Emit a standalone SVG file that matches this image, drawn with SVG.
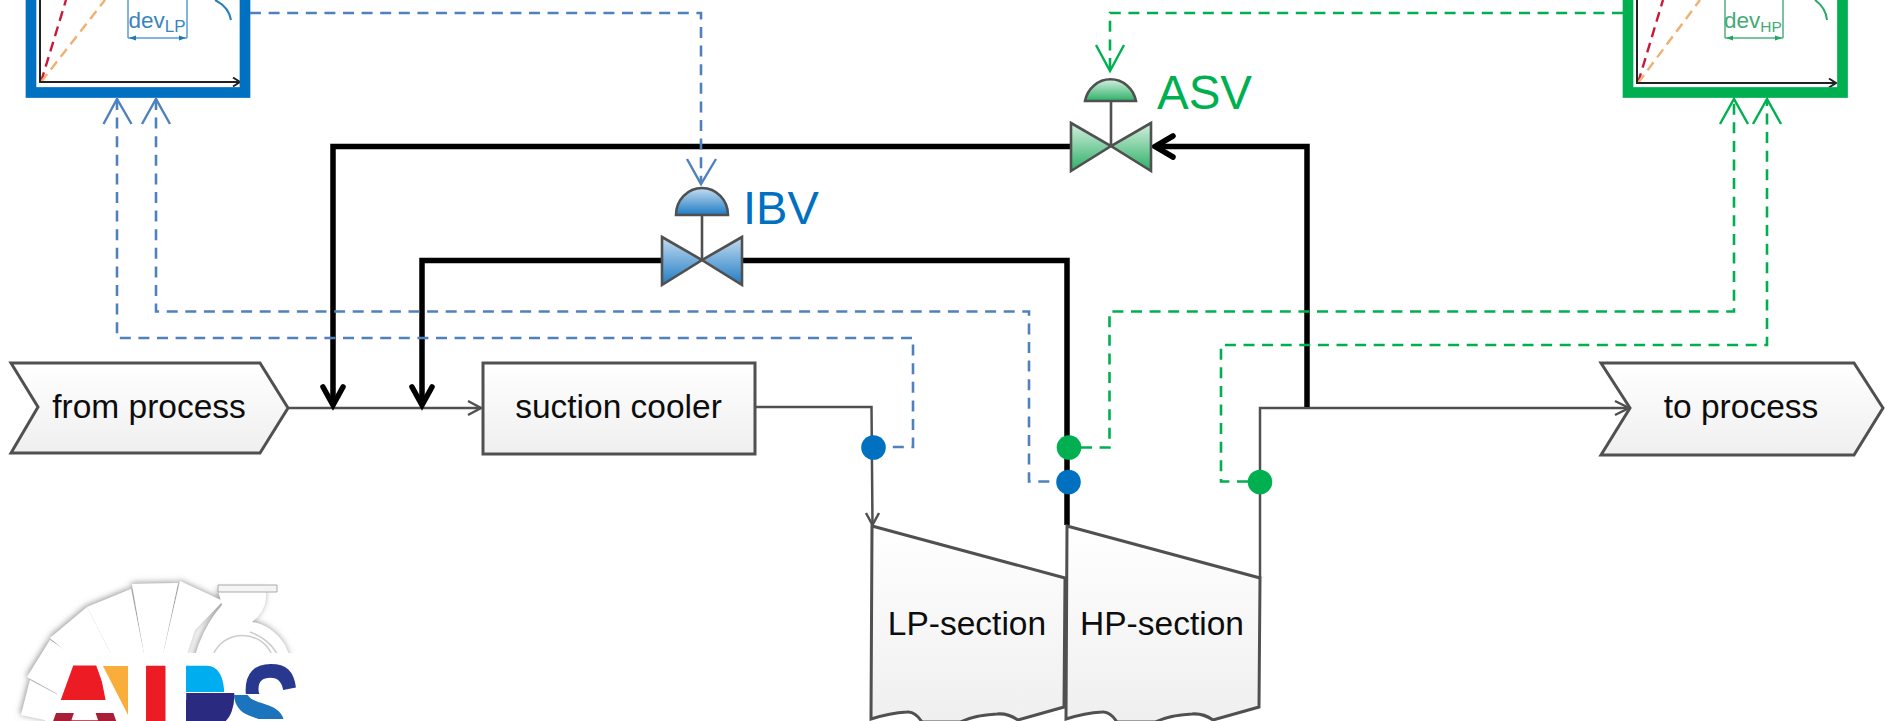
<svg xmlns="http://www.w3.org/2000/svg" width="1885" height="721" viewBox="0 0 1885 721">
<style>
text{font-family:"Liberation Sans",Arial,sans-serif}
.lbl{font-size:33.500px;fill:#0d0d0d;text-anchor:middle}
.shape{stroke:#505050;stroke-width:3;stroke-linejoin:miter;fill:url(#gry)}
.thin{fill:none;stroke:#505050;stroke-width:2.5}
.thick{fill:none;stroke:#000;stroke-width:5.5;stroke-linecap:butt}
.hd{fill:none;stroke:#000;stroke-width:5.5;stroke-linecap:round;stroke-linejoin:miter}
.hdt{fill:none;stroke:#505050;stroke-width:2.5}
.bd{fill:none;stroke:#4f81bd;stroke-width:2.6;stroke-dasharray:11 7.600}
.gd{fill:none;stroke:#00b050;stroke-width:2.6;stroke-dasharray:11 7.600}
.bh{fill:none;stroke:#4f81bd;stroke-width:2.4}
.gh{fill:none;stroke:#00b050;stroke-width:2.4}
.vlv{stroke:#505050;stroke-width:2.6;stroke-linejoin:miter}
.stem{stroke:#505050;stroke-width:2.6}
.ax{fill:none;stroke:#222;stroke-width:2}
.red{fill:none;stroke:#c8193c;stroke-width:2.4;stroke-dasharray:10 6}
.org{fill:none;stroke:#f0b070;stroke-width:2.4;stroke-dasharray:10 6}
.logo{font-weight:bold;font-size:135px}
</style>
<defs>
<linearGradient id="gry" x1="0" y1="0" x2="0" y2="1"><stop offset="0" stop-color="#fff"/><stop offset="1" stop-color="#efefef"/></linearGradient>
<linearGradient id="blu" x1="0" y1="0" x2="0" y2="1"><stop offset="0" stop-color="#c5dcf0"/><stop offset="1" stop-color="#1f7cc4"/></linearGradient>
<linearGradient id="grn" x1="0" y1="0" x2="0" y2="1"><stop offset="0" stop-color="#d5f0e0"/><stop offset="1" stop-color="#2cb066"/></linearGradient>
<filter id="soft" x="-20%" y="-20%" width="140%" height="140%"><feDropShadow dx="-1" dy="-1" stdDeviation="3" flood-color="#777" flood-opacity=".8"/></filter>
<clipPath id="pTop"><rect x="170" y="650" width="70" height="42"/></clipPath>
<clipPath id="pBot"><rect x="170" y="693" width="70" height="28"/></clipPath>
<clipPath id="aTop"><rect x="40" y="650" width="100" height="50"/></clipPath>
<clipPath id="aBot"><rect x="40" y="713" width="100" height="8"/></clipPath>
<clipPath id="sTop"><rect x="236" y="650" width="70" height="44"/></clipPath>
<clipPath id="sBot"><rect x="226" y="695" width="70" height="24"/></clipPath>
</defs>
<rect width="1885" height="721" fill="#fff"/>

<g id="chart-lp">
<path class="red" d="M41 82L66 0"/><path class="org" d="M41 82L105 0"/>
<path class="ax" d="M40 0V82H240M233 77.500L240 82L233 86.500"/>
<path d="M128 0V38M187 0V38M128 38H187" fill="none" stroke="#5b9bd5" stroke-width="1.500"/>
<path d="M129 38l7-2.500v5zM186 38l-7-2.500v5z" fill="#1f77b4"/>
<path d="M215 0Q229 7 231 20" fill="none" stroke="#2a7fb8" stroke-width="2"/>
<text x="128.500" y="27.500" font-size="22.500" fill="#3a85bd">dev<tspan font-size="17" dy="4">LP</tspan></text>
<rect x="31" y="-20" width="214" height="112.500" fill="none" stroke="#0070c0" stroke-width="10.700"/>
</g>
<g id="chart-hp">
<path class="red" d="M1638 83L1663 0"/><path class="org" d="M1638 83L1700 0"/>
<path class="ax" d="M1637 0V83H1836M1829 78.500L1836 83L1829 87.500"/>
<path d="M1725 0V38M1783 0V38M1725 38H1783" fill="none" stroke="#50b080" stroke-width="1.500"/>
<path d="M1726 38l7-2.500v5zM1782 38l-7-2.500v5z" fill="#1fa860"/>
<path d="M1815 0Q1826 8 1827 20" fill="none" stroke="#2aa868" stroke-width="2"/>
<text x="1724" y="27.500" font-size="22.500" fill="#45ab75">dev<tspan font-size="15.500" dy="4">HP</tspan></text>
<rect x="1628" y="-20" width="214.500" height="112.500" fill="none" stroke="#00b050" stroke-width="10.700"/>
</g>

<g id="connectors">
<path class="thin" d="M289 408H481"/><path class="hdt" d="M468 401L481 408L468 415"/>
<path class="thin" d="M756 407H871.500L872.500 525"/><path class="hdt" d="M866 513L872.500 525L879 513"/>
<path class="thin" d="M1260 578V408H1629"/><path class="hdt" d="M1615 401L1629 408L1615 415"/>
<path class="thick" d="M1070 146.500H333V405"/><path class="hd" d="M323 387L333 405L343 387"/>
<path class="thick" d="M662 260.500H422V405"/><path class="hd" d="M412 387L422 405L432 387"/>
<path class="thick" d="M742 260.500H1067V525"/>
<path class="thick" d="M1307 407V146.500H1155"/><path class="hd" d="M1173 136L1155 146.500L1173 157"/>
<path class="bd" d="M250 13H701V183"/><path class="bh" d="M687 159L701 184L716 159"/>
<path class="bd" d="M117 99V338H913V447H886"/><path class="bh" d="M103.500 124L117 99L131.500 124"/>
<path class="bd" d="M156 99V311.500H1029V481.500H1056"/><path class="bh" d="M142 124L156 99L170 124"/>
<path class="gd" d="M1623 13H1110V71"/><path class="gh" d="M1096 45L1110 71L1124 45"/>
<path class="gd" d="M1081 447.500H1109.500V311.500H1734V99"/><path class="gh" d="M1720 124L1734 99L1748 124"/>
<path class="gd" d="M1248 481.500H1221V345H1767V99"/><path class="gh" d="M1753 124L1767 99L1781 124"/>
</g>

<g id="from-process"><path class="shape" d="M11 363H260L288 408L260 453H11L38 407Z"/><text class="lbl" x="149" y="418">from process</text></g>
<g id="suction-cooler"><rect class="shape" x="483" y="363" width="272" height="91"/><text class="lbl" x="618.500" y="418">suction cooler</text></g>
<g id="to-process"><path class="shape" d="M1601 363H1854L1883 408L1854 455H1601L1630 408Z"/><text class="lbl" x="1741" y="418">to process</text></g>

<g id="lp-section"><path class="shape" d="M872 526L1065 578L1064 707L1018 720Q1008 713 997 714Q975 715 960 722H922Q915 711 907 712Q890 713 871 719Z"/><text class="lbl" x="967" y="635">LP-section</text></g>
<g id="hp-section"><path class="shape" d="M1067 526L1260 578L1259 707L1213 720Q1203 713 1192 714Q1170 715 1155 722H1117Q1110 711 1102 712Q1085 713 1066 719Z"/><text class="lbl" x="1162" y="635">HP-section</text></g>

<g id="ibv">
<path class="stem" d="M702 215V260"/>
<path class="vlv" fill="url(#blu)" d="M676 215A26 27 0 0 1 728 215Z"/>
<path class="vlv" fill="url(#blu)" d="M662 237L702 260L662 285Z"/>
<path class="vlv" fill="url(#blu)" d="M742 237L702 260L742 285Z"/>
<text x="743" y="224" font-size="47" fill="#0070c0">IBV</text>
</g>
<g id="asv">
<path class="stem" d="M1111 101V146"/>
<path class="vlv" fill="url(#grn)" d="M1085 101A26 27 0 0 1 1136 101Z"/>
<path class="vlv" fill="url(#grn)" d="M1071 123L1111 146L1071 171Z"/>
<path class="vlv" fill="url(#grn)" d="M1151 123L1111 146L1151 171Z"/>
<text x="1157" y="109" font-size="47.500" fill="#00b050">ASV</text>
</g>

<g id="sensors">
<circle cx="873.500" cy="447.500" r="12.300" fill="#0070c0"/>
<circle cx="1069" cy="447.500" r="12.300" fill="#00b050"/>
<circle cx="1068.500" cy="482" r="12.300" fill="#0070c0"/>
<circle cx="1260" cy="482" r="12.300" fill="#00b050"/>
</g>

<g id="logo">
<g fill="#fff" filter="url(#soft)">
<path d="M21 715L30 680L62 697L50 721Z"/>
<path d="M27 677L50 640L98 672L72 702Z"/>
<path d="M50 638L87 607L112 656L90 672Z"/>
<path d="M87 607L131 589L144 654L112 656Z"/>
<path d="M132 584L178 583L163 654H144Z"/>
<path d="M180 581L223 601L195 630L187 654H163Z"/>
<path d="M218 590H266V598Q265 612 252 622Q272 625 285 645Q295 665 295 690H190Q192 640 222 605Z"/>
</g>
<path d="M218 585H277V592H218Z" fill="#f4f4f4" stroke="#aaa"/>
<path d="M213 655A32 32 0 0 1 272 655M250 632Q272 640 280 660" fill="none" stroke="#ccc" stroke-width="1.500"/>
<path d="M75 653H300V721H45Z" fill="#fff"/>
<text class="logo" x="36" y="759" fill="#ed1c24" clip-path="url(#aTop)">A</text>
<text class="logo" x="36" y="759" fill="#a91d36" clip-path="url(#aBot)">A</text>
<path d="M84 668L100 700H68Z" fill="#ed1c24"/>
<path d="M98 662H140V712H108Z" fill="#fff"/>
<path d="M103 666H128V715Z" fill="#f9ae3c"/>
<text class="logo" x="137" y="759" fill="#ed1c24">I</text>
<g clip-path="url(#pTop)"><text class="logo" transform="translate(181.500 759) scale(.5 1)" fill="#00aeef">P</text></g>
<rect x="194" y="672" width="20" height="20" fill="#00aeef"/>
<g clip-path="url(#pBot)"><text class="logo" transform="translate(180.500 759) scale(.63 1)" fill="#2a2a80">P</text></g>
<rect x="194" y="693" width="30" height="12" fill="#2a2a80"/>
<rect x="186" y="700" width="40" height="21" fill="#2a2a80"/>
<g clip-path="url(#sTop)"><text class="logo" transform="translate(240 759) scale(.68 1)" fill="#29388f">S</text></g>
<g clip-path="url(#sBot)"><text class="logo" transform="translate(228 759) scale(.68 1)" fill="#1c75bc">S</text></g>
</g>
</svg>
